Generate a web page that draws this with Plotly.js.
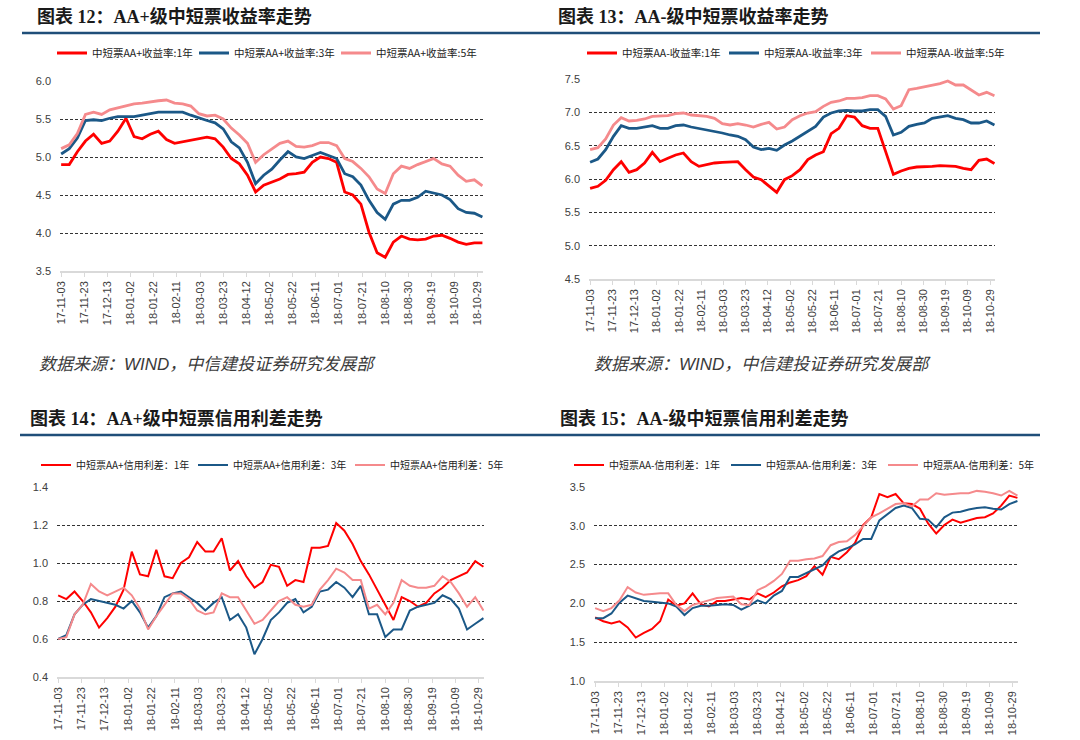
<!DOCTYPE html>
<html>
<head>
<meta charset="utf-8">
<script src="https://cdn.plot.ly/plotly-3.0.1.min.js"></script>
<style>
  html, body { margin: 0; padding: 0; background: #fff; }
  #chart { width: 1080px; height: 740px; }
</style>
</head>
<body>
<div id="chart"></div>
<script>
/** 中短票收益率 / 信用利差 chart */

// weekly observation dates (Fridays)
var dates = [
  "2017-11-03","2017-11-10","2017-11-17","2017-11-24","2017-12-01","2017-12-08","2017-12-15",
  "2017-12-22","2017-12-29","2018-01-05","2018-01-12","2018-01-19","2018-01-26","2018-02-02",
  "2018-02-09","2018-02-16","2018-02-23","2018-03-02","2018-03-09","2018-03-16","2018-03-23",
  "2018-03-30","2018-04-06","2018-04-13","2018-04-20","2018-04-27","2018-05-04","2018-05-11",
  "2018-05-18","2018-05-25","2018-06-01","2018-06-08","2018-06-15","2018-06-22","2018-06-29",
  "2018-07-06","2018-07-13","2018-07-20","2018-07-27","2018-08-03","2018-08-10","2018-08-17",
  "2018-08-24","2018-08-31","2018-09-07","2018-09-14","2018-09-21","2018-09-28","2018-10-05",
  "2018-10-12","2018-10-19","2018-10-26","2018-11-02"
];

// 图表12  AA+ yields
var aaPlus1y = [4.90,4.90,5.07,5.21,5.30,5.18,5.21,5.34,5.51,5.27,5.24,5.30,5.34,5.23,5.18,5.20,5.22,5.24,5.26,5.24,5.13,4.98,4.91,4.76,4.54,4.63,4.67,4.71,4.77,4.78,4.80,4.93,5.00,4.98,4.93,4.54,4.50,4.38,4.01,3.74,3.68,3.88,3.96,3.92,3.91,3.92,3.96,3.97,3.93,3.88,3.85,3.87,3.87];
var aaPlus3y = [5.04,5.11,5.25,5.48,5.49,5.48,5.51,5.53,5.53,5.53,5.55,5.57,5.59,5.59,5.59,5.59,5.55,5.51,5.48,5.45,5.37,5.20,5.12,4.93,4.65,4.76,4.84,4.96,5.07,5.00,4.98,5.02,5.06,5.02,4.98,4.78,4.74,4.63,4.43,4.27,4.18,4.38,4.43,4.43,4.47,4.55,4.52,4.50,4.44,4.32,4.27,4.26,4.21];
var aaPlus5y = [5.11,5.16,5.31,5.56,5.59,5.56,5.62,5.65,5.67,5.70,5.71,5.73,5.74,5.75,5.71,5.70,5.67,5.57,5.54,5.55,5.50,5.38,5.29,5.18,4.93,5.03,5.10,5.18,5.21,5.14,5.13,5.15,5.19,5.19,5.15,4.98,4.94,4.85,4.74,4.58,4.52,4.78,4.88,4.85,4.90,4.94,4.98,4.91,4.88,4.76,4.68,4.70,4.62];

// 图表13  AA- yields
var aaMinus1y = [5.86,5.89,5.98,6.14,6.26,6.10,6.14,6.24,6.40,6.26,6.31,6.36,6.39,6.26,6.19,6.22,6.24,6.25,6.25,6.26,6.14,6.03,5.99,5.89,5.80,5.99,6.05,6.14,6.29,6.36,6.41,6.68,6.76,6.95,6.93,6.80,6.76,6.76,6.41,6.07,6.12,6.16,6.18,6.18,6.19,6.20,6.19,6.19,6.16,6.14,6.28,6.30,6.23];
var aaMinus3y = [6.25,6.30,6.44,6.64,6.80,6.76,6.76,6.78,6.80,6.76,6.76,6.80,6.81,6.78,6.76,6.74,6.71,6.69,6.66,6.64,6.59,6.48,6.44,6.46,6.43,6.51,6.57,6.64,6.71,6.79,6.93,6.99,7.02,7.03,7.02,7.02,7.04,7.04,6.94,6.66,6.70,6.79,6.82,6.84,6.91,6.93,6.95,6.91,6.89,6.84,6.84,6.87,6.81];
var aaMinus5y = [6.44,6.47,6.60,6.81,6.92,6.87,6.88,6.90,6.94,6.95,6.95,6.98,6.99,6.96,6.95,6.94,6.91,6.83,6.81,6.83,6.81,6.78,6.82,6.85,6.75,6.78,6.89,6.95,6.99,7.01,7.09,7.15,7.17,7.21,7.21,7.22,7.25,7.25,7.20,7.05,7.10,7.34,7.36,7.38,7.41,7.43,7.47,7.41,7.41,7.33,7.26,7.30,7.25];

// 图表14  AA+ credit spreads
var sprPlus1y = [0.83,0.81,0.85,0.80,0.74,0.66,0.71,0.77,0.86,1.06,0.94,0.93,1.07,0.93,0.92,1.00,1.03,1.11,1.06,1.06,1.13,0.96,1.01,0.93,0.87,0.90,0.99,0.98,0.88,0.91,0.90,1.08,1.08,1.09,1.21,1.17,1.10,1.01,0.94,0.86,0.78,0.70,0.82,0.80,0.77,0.79,0.84,0.87,0.91,0.93,0.95,1.01,0.98];
var sprPlus3y = [0.60,0.62,0.73,0.78,0.81,0.80,0.79,0.78,0.76,0.80,0.74,0.66,0.72,0.82,0.84,0.85,0.82,0.79,0.75,0.79,0.82,0.70,0.73,0.66,0.52,0.60,0.70,0.74,0.79,0.81,0.74,0.77,0.85,0.86,0.90,0.87,0.82,0.88,0.73,0.73,0.61,0.65,0.65,0.75,0.77,0.78,0.79,0.83,0.81,0.76,0.65,0.68,0.71];
var sprPlus5y = [0.60,0.61,0.73,0.78,0.89,0.85,0.83,0.85,0.87,0.83,0.76,0.65,0.72,0.78,0.84,0.84,0.81,0.75,0.73,0.74,0.84,0.82,0.82,0.75,0.68,0.70,0.75,0.80,0.82,0.78,0.77,0.78,0.86,0.91,0.97,0.95,0.91,0.91,0.76,0.78,0.73,0.79,0.91,0.88,0.87,0.87,0.88,0.93,0.90,0.84,0.77,0.82,0.75];

// 图表15  AA- credit spreads
var sprMinus1y = [1.82,1.77,1.74,1.77,1.69,1.56,1.62,1.67,1.77,2.05,1.97,2.00,2.13,1.99,1.96,2.03,2.03,2.05,2.07,2.05,2.13,2.08,2.14,2.22,2.27,2.30,2.35,2.48,2.37,2.60,2.57,2.66,2.78,3.01,3.11,3.41,3.37,3.41,3.29,3.28,3.22,3.03,2.90,3.01,3.08,3.04,3.07,3.10,3.11,3.16,3.26,3.39,3.36];
var sprMinus3y = [1.81,1.81,1.87,2.01,2.10,2.06,2.03,2.02,2.01,2.00,1.96,1.85,1.94,1.97,1.97,1.98,1.99,1.98,1.92,1.97,2.04,2.00,2.10,2.16,2.34,2.34,2.39,2.44,2.49,2.60,2.67,2.71,2.76,2.83,2.83,3.07,3.15,3.23,3.26,3.23,3.09,3.08,2.98,3.11,3.17,3.18,3.21,3.23,3.24,3.22,3.21,3.28,3.32];
var sprMinus5y = [1.94,1.90,1.94,2.04,2.21,2.14,2.11,2.12,2.13,2.13,1.98,1.90,1.98,2.01,2.04,2.07,2.08,2.09,1.99,1.98,2.17,2.22,2.29,2.38,2.55,2.55,2.57,2.58,2.61,2.75,2.79,2.80,2.88,3.00,3.11,3.16,3.22,3.28,3.29,3.25,3.34,3.34,3.42,3.40,3.41,3.42,3.42,3.45,3.44,3.42,3.39,3.45,3.39];

var titles = [
  "图表 12：AA+级中短票收益率走势",
  "图表 13：AA-级中短票收益率走势",
  "图表 14：AA+级中短票信用利差走势",
  "图表 15：AA-级中短票信用利差走势"
];
var source = "数据来源：WIND，中信建投证券研究发展部";

var RED = "#ff0000", BLUE = "#1b5887", PINK = "#f58a8c";
var W = 1080, H = 740;
var px = function(v){ return v / W; };
var py = function(v){ return 1 - v / H; };

function trace(y, name, color, width, n){
  return {
    x: dates, y: y, name: name, type: "scatter", mode: "lines",
    line: {color: color, width: width},
    xaxis: "x" + (n > 1 ? n : ""), yaxis: "y" + (n > 1 ? n : ""),
    legend: "legend" + (n > 1 ? n : "")
  };
}

var data = [
  trace(aaPlus1y, "中短票AA+收益率:1年", RED, 2.8, 1),
  trace(aaPlus3y, "中短票AA+收益率:3年", BLUE, 2.8, 1),
  trace(aaPlus5y, "中短票AA+收益率:5年", PINK, 2.8, 1),
  trace(aaMinus1y, "中短票AA-收益率:1年", RED, 2.8, 2),
  trace(aaMinus3y, "中短票AA-收益率:3年", BLUE, 2.8, 2),
  trace(aaMinus5y, "中短票AA-收益率:5年", PINK, 2.8, 2),
  trace(sprPlus1y, "中短票AA+信用利差：1年", RED, 2, 3),
  trace(sprPlus3y, "中短票AA+信用利差：3年", BLUE, 2, 3),
  trace(sprPlus5y, "中短票AA+信用利差：5年", PINK, 2, 3),
  trace(sprMinus1y, "中短票AA-信用利差：1年", RED, 2, 4),
  trace(sprMinus3y, "中短票AA-信用利差：3年", BLUE, 2, 4),
  trace(sprMinus5y, "中短票AA-信用利差：5年", PINK, 2, 4)
];

var tickFont = {family: "Liberation Sans, Arial, sans-serif", size: 11, color: "#404040"};

function xAxis(x0, x1, yAnchor){
  return {
    type: "date", domain: [px(x0), px(x1)], anchor: yAnchor,
    range: ["2017-11-02", "2018-11-02 12:00"],
    tick0: "2017-11-03", dtick: 20 * 86400000, tickformat: "%y-%m-%d",
    tickangle: -90, tickfont: tickFont,
    showgrid: false, showline: true, linecolor: "#d9d9d9", linewidth: 1.5,
    ticks: "outside", ticklen: 4, tickcolor: "#d9d9d9",
    automargin: false, fixedrange: true
  };
}

function yAxis(yTop, yBot, lo, hi, step, xAnchor){
  return {
    domain: [py(yBot), py(yTop)], anchor: xAnchor,
    range: [lo, hi], dtick: step, tick0: lo, tickformat: ".1f",
    tickfont: tickFont, ticks: "", ticklabelstandoff: 8,
    showgrid: true, gridcolor: "#333333", gridwidth: 1, griddash: "3px,2px",
    zeroline: false, showline: false, automargin: false, fixedrange: true
  };
}

// w = text part of each legend entry; the line sample adds about 44px more
function legendAt(x, y, w, size){
  return {
    x: px(x), y: py(y), xanchor: "left", yanchor: "middle",
    orientation: "h", entrywidth: w, entrywidthmode: "pixels",
    itemwidth: 30, tracegroupgap: 0,
    font: {family: "Noto Sans CJK SC, sans-serif", size: size, color: "#222"},
    bgcolor: "rgba(0,0,0,0)"
  };
}

var titleFont = {family: "Liberation Serif, Noto Sans CJK SC, serif", size: 18, color: "#1a1a1a", weight: "bold"};
var srcFont = {family: "Liberation Sans, Noto Sans CJK SC, sans-serif", size: 17, color: "#3a3a3a", style: "italic"};

function note(text, x, y, font){
  return {text: text, xref: "paper", yref: "paper", x: px(x), y: py(y),
          xanchor: "left", yanchor: "middle", showarrow: false, font: font};
}

function rule(x0, x1, y){
  return {type: "line", xref: "paper", yref: "paper",
          x0: px(x0), x1: px(x1), y0: py(y), y1: py(y),
          line: {color: "#1f4e79", width: 2.5}};
}

var layout = {
  width: W, height: H,
  margin: {l: 0, r: 0, t: 0, b: 0, autoexpand: false},
  paper_bgcolor: "#fff", plot_bgcolor: "#fff",
  showlegend: true,
  xaxis: xAxis(60, 483, "y"),
  yaxis: yAxis(81, 271, 3.5, 6.0, 0.5, "x"),
  xaxis2: xAxis(589, 995, "y2"),
  yaxis2: yAxis(79, 279, 4.5, 7.5, 0.5, "x2"),
  xaxis3: xAxis(57, 484, "y3"),
  yaxis3: yAxis(487, 677, 0.4, 1.4, 0.2, "x3"),
  xaxis4: xAxis(594, 1018, "y4"),
  yaxis4: yAxis(487, 681, 1.0, 3.5, 0.5, "x4"),
  legend: legendAt(52, 53, 97, 10.5),
  legend2: legendAt(582, 53, 97, 10.5),
  legend3: legendAt(36, 465, 112, 10),
  legend4: legendAt(569, 465, 112, 10),
  shapes: [rule(22, 1040, 33), rule(20, 1040, 435)],
  annotations: [
    note(titles[0], 35, 17, titleFont),
    note(titles[1], 556, 17, titleFont),
    note(titles[2], 28, 418, titleFont),
    note(titles[3], 558, 418, titleFont),
    note(source, 37, 365, srcFont),
    note(source, 592, 364, srcFont)
  ]
};

var config = {displayModeBar: false, responsive: false};

Plotly.newPlot("chart", data, layout, config);
</script>
</body>
</html>
